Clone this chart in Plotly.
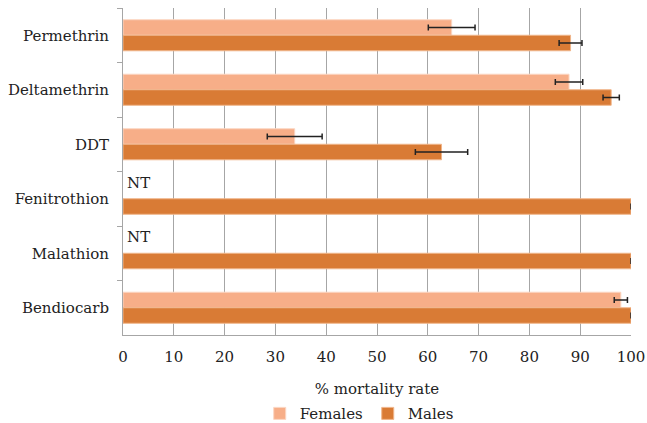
import plotly.graph_objects as go

categories = ["Permethrin", "Deltamethrin", "DDT", "Fenitrothion", "Malathion", "Bendiocarb"]
females = [64.7, 87.8, 33.8, None, None, 98.0]
females_err = [4.6, 2.7, 5.4, None, None, 1.3]
males = [88.1, 96.1, 62.7, 100, 100, 100]
males_err = [2.25, 1.6, 5.15, 0, 0, 0]
not_tested = ["Fenitrothion", "Malathion"]
x_ticks = list(range(0, 101, 10))

FONT = "'DejaVu Serif', 'Liberation Serif', 'Times New Roman', Times, serif"

fig = go.Figure()
fig.add_trace(go.Bar(
    name="Females", y=categories, x=females, orientation="h",
    marker=dict(color="#F7AE88", line=dict(color="#FBD6C2", width=1)),
    error_x=dict(type="data", array=females_err, color="#222222", thickness=1.5, width=3),
))
fig.add_trace(go.Bar(
    name="Males", y=categories, x=males, orientation="h",
    marker=dict(color="#D97B35", line=dict(color="#F0B58A", width=1)),
    error_x=dict(type="data", array=males_err, color="#222222", thickness=1.5, width=3),
))

for c in not_tested:
    fig.add_annotation(x=0, y=c, text="NT", showarrow=False, xanchor="left",
                       xshift=2, yshift=16, font=dict(family=FONT, size=15, color="#222222"))

fig.update_layout(
    width=647, height=423,
    margin=dict(l=123, r=16, t=8, b=88, autoexpand=False),
    paper_bgcolor="white", plot_bgcolor="white",
    barmode="group", bargap=0.43, bargroupgap=0,
    font=dict(family=FONT, size=15, color="#222222"),
    legend=dict(orientation="h", x=0.465, xanchor="center", y=-0.19, yanchor="top",
                font=dict(family=FONT, size=15), traceorder="normal"),
    showlegend=True,
)
fig.update_xaxes(
    range=[0, 100], tickvals=x_ticks, showgrid=True, gridcolor="#A6A6A6", gridwidth=1,
    showline=True, linecolor="#A6A6A6", linewidth=1, zeroline=False,
    ticks="", tickfont=dict(family=FONT, size=15), ticklabelstandoff=8, automargin=False,
    title=dict(text="% mortality rate", font=dict(family=FONT, size=15), standoff=18),
)
fig.update_yaxes(
    autorange="reversed", showline=True, linecolor="#A6A6A6", linewidth=1,
    ticks="outside", ticklen=5, tickcolor="#A6A6A6", tickson="boundaries",
    tickfont=dict(family=FONT, size=15), showgrid=False, ticklabelstandoff=10,
    automargin=False,
)

fig.write_html(
    "out.html",
    config={"displayModeBar": False},
    post_script="document.body.style.margin='0';document.body.style.overflow='hidden';",
)
